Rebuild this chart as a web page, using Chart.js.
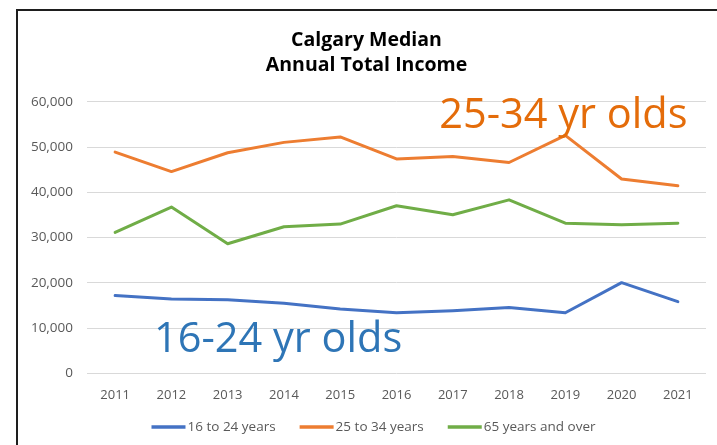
<!DOCTYPE html>
<html>
<head>
<meta charset="utf-8">
<script src="https://cdn.jsdelivr.net/npm/chart.js@4.4.1/dist/chart.umd.min.js"></script>
<style>
  html, body { margin: 0; padding: 0; background: #fff; }
  #wrap { position: relative; width: 717px; height: 445px; overflow: hidden; }
  #frame { position: absolute; left: 16px; top: 9px; width: 800px; height: 500px;
           border-left: 2px solid #1e1e1e; border-top: 2px solid #1e1e1e; pointer-events: none; }
  canvas { display: block; }
</style>
</head>
<body>
<div id="wrap">
  <canvas id="c" width="717" height="445"></canvas>
  <div id="frame"></div>
</div>
<script>
const years = ["2011","2012","2013","2014","2015","2016","2017","2018","2019","2020","2021"];
const age16to24 = [17200, 16450, 16250, 15500, 14250, 13400, 13850, 14550, 13400, 20050, 15850];
const age25to34 = [48900, 44600, 48750, 51050, 52250, 47400, 47950, 46600, 52600, 42950, 41450];
const age65plus = [31150, 36750, 28650, 32400, 33000, 37050, 35050, 38350, 33200, 32850, 33200];
const seriesNames = ["16 to 24 years", "25 to 34 years", "65 years and over"];
const seriesColors = ["#4472C4", "#ED7D31", "#70AD47"];
const titleLines = ["Calgary Median", "Annual Total Income"];
const annotations = [
  { text: "25-34 yr olds", color: "#E46C0A" },
  { text: "16-24 yr olds", color: "#2E75B6" }
];

const FONT = "'Open Sans', Lato, 'Liberation Sans', sans-serif";

const overlay = {
  id: 'overlay',
  afterDraw(chart) {
    const ctx = chart.ctx;
    const xs = chart.scales.x, ys = chart.scales.y;
    ctx.save();
    // annotations
    ctx.textBaseline = 'alphabetic';
    ctx.textAlign = 'left';
    ctx.font = "41.5px " + FONT;
    ctx.fillStyle = annotations[0].color;
    ctx.fillText(annotations[0].text, xs.getPixelForValue(5.76), ys.getPixelForValue(54300));
    ctx.fillStyle = annotations[1].color;
    ctx.fillText(annotations[1].text, xs.getPixelForValue(0.69), ys.getPixelForValue(4700));
    // legend (centered under the title)
    ctx.font = "13.5px " + FONT;
    ctx.textBaseline = 'middle';
    const ly = 427, lineW = 34, gapTxt = 2, gapItem = 24;
    const widths = chart.data.datasets.map(ds => ctx.measureText(ds.label).width);
    const total = widths.reduce((s, w) => s + lineW + gapTxt + w, 0) + gapItem * (widths.length - 1);
    const cx = (chart.chartArea.left + chart.chartArea.right) / 2 - 23;
    let x = cx - total / 2;
    chart.data.datasets.forEach((ds, i) => {
      ctx.strokeStyle = ds.borderColor;
      ctx.lineWidth = 3.5;
      ctx.beginPath();
      ctx.moveTo(x, ly); ctx.lineTo(x + lineW, ly); ctx.stroke();
      ctx.fillStyle = '#595959';
      ctx.fillText(ds.label, x + lineW + gapTxt, ly);
      x += lineW + gapTxt + widths[i] + gapItem;
    });
    ctx.restore();
  }
};

new Chart(document.getElementById('c'), {
  type: 'line',
  data: {
    labels: years,
    datasets: [
      { label: seriesNames[0], data: age16to24, borderColor: seriesColors[0], backgroundColor: seriesColors[0] },
      { label: seriesNames[1], data: age25to34, borderColor: seriesColors[1], backgroundColor: seriesColors[1] },
      { label: seriesNames[2], data: age65plus, borderColor: seriesColors[2], backgroundColor: seriesColors[2] }
    ]
  },
  options: {
    responsive: false,
    animation: false,
    devicePixelRatio: 1,
    layout: { padding: { left: 27, right: 11, top: 0, bottom: 28 } },
    elements: {
      line: { borderWidth: 3, tension: 0, borderCapStyle: 'round', borderJoinStyle: 'round' },
      point: { radius: 0, hoverRadius: 0 }
    },
    plugins: {
      legend: { display: false },
      tooltip: { enabled: false },
      title: {
        display: true,
        text: titleLines,
        color: '#000',
        font: { family: FONT, size: 19.5, weight: 'bold', lineHeight: 1.33 },
        padding: { top: 27, bottom: 23 }
      }
    },
    scales: {
      x: {
        offset: true,
        grid: { display: false, drawTicks: false },
        border: { display: false },
        ticks: { color: '#595959', font: { family: FONT, size: 13 }, padding: 14, maxRotation: 0, autoSkip: false }
      },
      y: {
        min: 0, max: 60000,
        afterFit(scale) { scale.width = 60; },
        grid: { color: '#d9d9d9', lineWidth: 1, drawTicks: false },
        border: { display: false },
        ticks: {
          stepSize: 10000, color: '#595959', padding: 14,
          font: { family: FONT, size: 13.5 },
          callback: (v) => v.toLocaleString('en-US')
        }
      }
    }
  },
  plugins: [overlay]
});
</script>
</body>
</html>
